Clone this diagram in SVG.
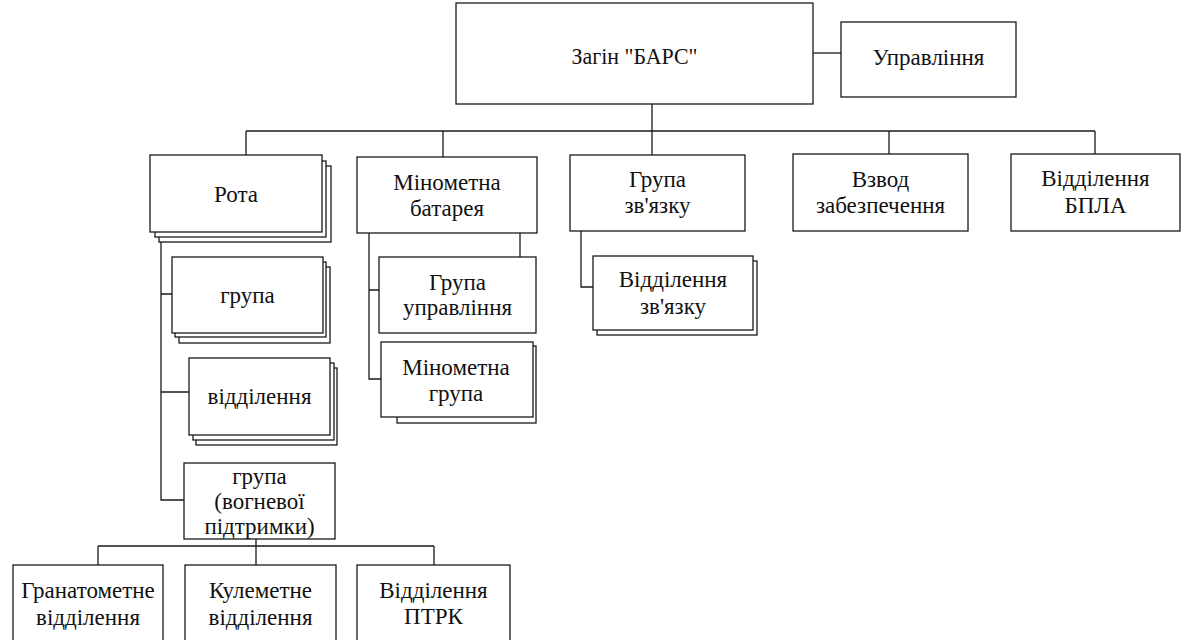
<svg xmlns="http://www.w3.org/2000/svg" width="1182" height="640" viewBox="0 0 1182 640">
<rect width="1182" height="640" fill="#fff"/>
<g id="connectors" fill="none" stroke="#1a1a1a" stroke-width="1.3">
<path d="M813,53H841"/>
<path d="M652,104V155"/>
<path d="M246,131H1095"/>
<path d="M246,131V155M443,131V157M889,131V154M1095,131V154"/>
<path d="M161,242V500H184M161,294H172M161,392H189"/>
<path d="M369,233V379H381M369,290H379M520,233V257"/>
<path d="M581,231V287H593"/>
<path d="M256,539V565M98,546H434M98,546V565M434,546V565"/>
</g>
<g id="nodes">
<g fill="#fff" stroke="#1a1a1a" stroke-width="1.3">
<rect id="n-zagin" x="456" y="3" width="357" height="101"/>
<rect id="n-upravlinnia" x="841" y="22" width="175" height="75"/>
<g id="n-rota">
<rect x="159" y="166" width="172" height="76"/>
<rect x="155" y="161" width="171" height="76"/>
<rect x="150" y="155" width="172" height="77"/>
</g>
<g id="n-hrupa">
<rect x="179" y="267" width="151" height="76"/>
<rect x="175" y="262" width="151" height="75"/>
<rect x="172" y="257" width="151" height="76"/>
</g>
<g id="n-viddilennia">
<rect x="196" y="368" width="141" height="77"/>
<rect x="193" y="363" width="141" height="77"/>
<rect x="189" y="358" width="141" height="77"/>
</g>
<rect id="n-vohnevoi" x="184" y="463" width="151" height="76"/>
<rect id="n-hranatometne" x="13" y="565" width="150" height="85"/>
<rect id="n-kulemetne" x="185" y="565" width="151" height="85"/>
<rect id="n-ptrk" x="357" y="565" width="153" height="85"/>
<rect id="n-batareia" x="357" y="157" width="180" height="76"/>
<rect id="n-hrupa-upravlinnia" x="379" y="257" width="157" height="76"/>
<g id="n-minometna-hrupa">
<rect x="397" y="346" width="139" height="77"/>
<rect x="381" y="342" width="152" height="75"/>
</g>
<rect id="n-hrupa-zviazku" x="570" y="155" width="175" height="76"/>
<g id="n-viddilennia-zviazku">
<rect x="597" y="261" width="160" height="74"/>
<rect x="593" y="256" width="160" height="74"/>
</g>
<rect id="n-vzvod" x="793" y="154" width="175" height="77"/>
<rect id="n-bpla" x="1011" y="154" width="169" height="77"/>
</g>
<g id="labels" fill="#111" text-anchor="middle" font-family="Times New Roman, Liberation Serif, serif" font-size="23">
<text x="634.5" y="64" font-size="24" textLength="126" lengthAdjust="spacingAndGlyphs">Загін "БАРС"</text>
<text x="928.5" y="65">Управління</text>
<text x="236" y="202">Рота</text>
<text x="247.5" y="303">група</text>
<text x="259.5" y="404">відділення</text>
<text x="259.5" y="484">група</text>
<text x="259.5" y="509">(вогневої</text>
<text x="259.5" y="534">підтримки)</text>
<text x="88" y="598">Гранатометне</text>
<text x="88" y="625">відділення</text>
<text x="260.5" y="598">Кулеметне</text>
<text x="260.5" y="625">відділення</text>
<text x="433.5" y="598">Відділення</text>
<text x="433.5" y="624">ПТРК</text>
<text x="447" y="190">Мінометна</text>
<text x="447" y="216">батарея</text>
<text x="457.5" y="290">Група</text>
<text x="457.5" y="315">управління</text>
<text x="456" y="375">Мінометна</text>
<text x="456" y="401">група</text>
<text x="657.5" y="187">Група</text>
<text x="657.5" y="213">зв'язку</text>
<text x="673" y="287">Відділення</text>
<text x="673" y="314">зв'язку</text>
<text x="880.5" y="187">Взвод</text>
<text x="880.5" y="213">забезпечення</text>
<text x="1095.5" y="186">Відділення</text>
<text x="1095.5" y="213">БПЛА</text>
</g>
</g>
</svg>
